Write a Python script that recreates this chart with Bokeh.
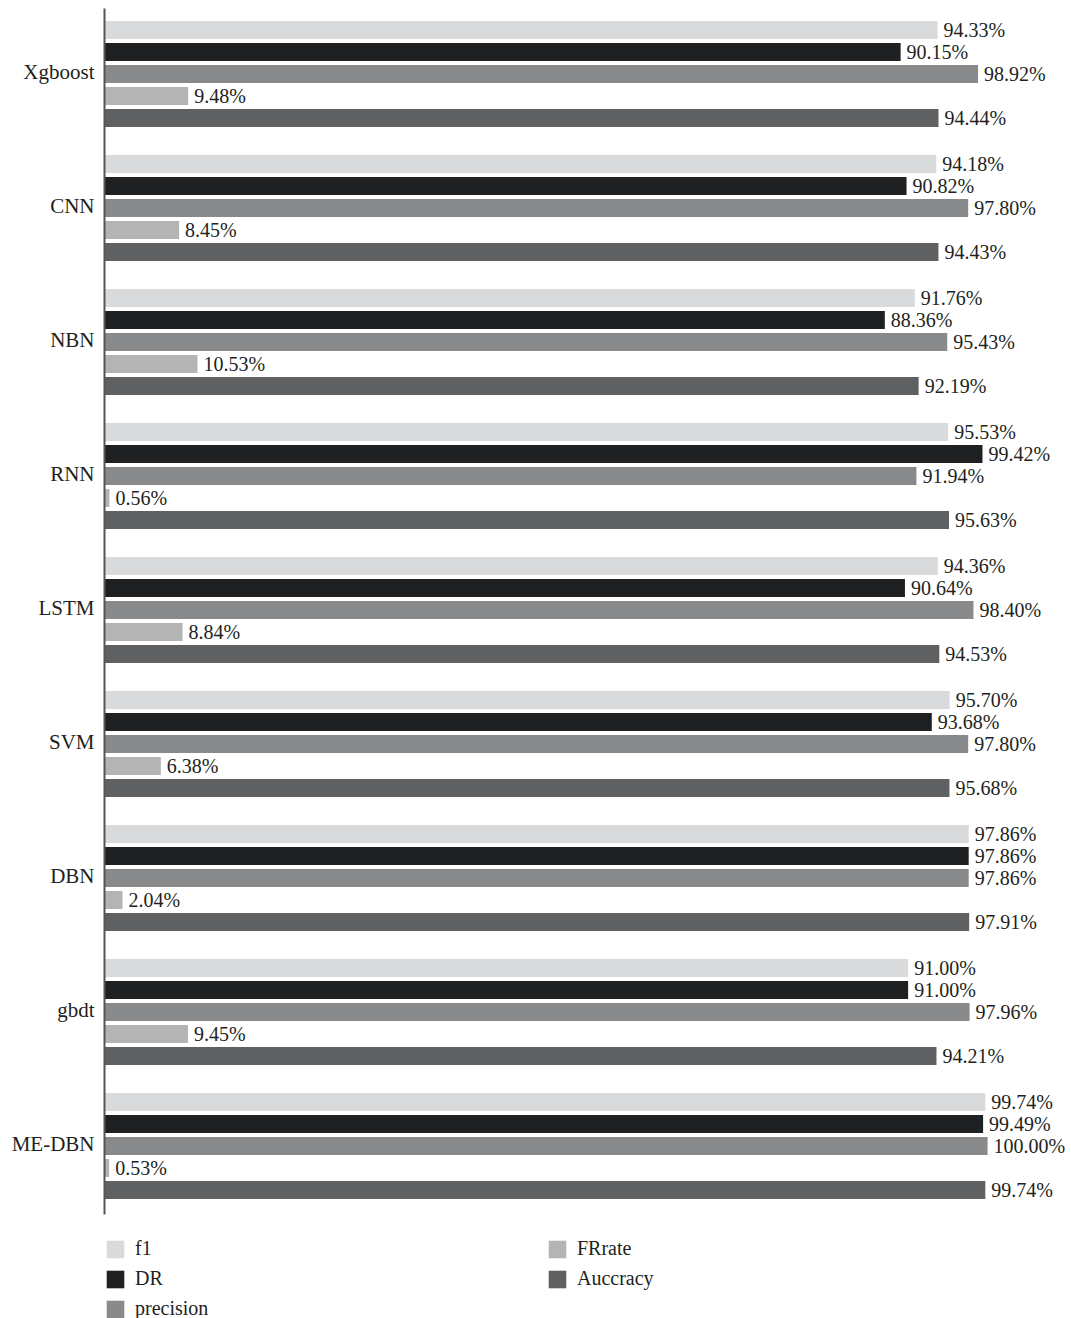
from bokeh.plotting import figure
from bokeh.models import Range1d, Legend, LegendItem, ColumnDataSource, FixedTicker
from bokeh.core.properties import value
from bokeh.embed import file_html
from bokeh.resources import INLINE

categories = ["Xgboost", "CNN", "NBN", "RNN", "LSTM", "SVM", "DBN", "gbdt", "ME-DBN"]
f1 = [94.33, 94.18, 91.76, 95.53, 94.36, 95.70, 97.86, 91.00, 99.74]
dr = [90.15, 90.82, 88.36, 99.42, 90.64, 93.68, 97.86, 91.00, 99.49]
precision = [98.92, 97.80, 95.43, 91.94, 98.40, 97.80, 97.86, 97.96, 100.00]
frrate = [9.48, 8.45, 10.53, 0.56, 8.84, 6.38, 2.04, 9.45, 0.53]
accuracy = [94.44, 94.43, 92.19, 95.63, 94.53, 95.68, 97.91, 94.21, 99.74]

series_names = ["f1", "DR", "precision", "FRrate", "Auccracy"]
series_values = [f1, dr, precision, frrate, accuracy]
colors = ["#d9dadb", "#1f2021", "#898a8b", "#b4b4b4", "#5f6061"]

FONT = "Liberation Serif"
TXT = "#231f20"

n = len(categories)
centers = [n - 0.5 - i for i in range(n)]  # top to bottom
tick_pos = [c + 3.5 / 134 for c in centers]

p = figure(width=1071, height=1318,
           y_range=Range1d(-0.776, n),
           x_range=Range1d(0, 109.5),
           output_backend="svg", toolbar_location=None,
           x_axis_location=None,
           min_border_left=104, min_border_right=0,
           min_border_top=8, min_border_bottom=0)

p.outline_line_color = None
p.xgrid.visible = False
p.ygrid.visible = False
p.yaxis.bounds = (0, n)
p.yaxis.ticker = FixedTicker(ticks=tick_pos)
p.yaxis.major_label_overrides = {t: name for t, name in zip(tick_pos, categories)}
p.yaxis.axis_line_color = "#555555"
p.yaxis.axis_line_width = 2
p.yaxis.major_tick_line_color = None
p.yaxis.minor_tick_line_color = None
p.yaxis.major_label_standoff = 4
p.yaxis.major_label_text_font = FONT
p.yaxis.major_label_text_font_size = "21px"
p.yaxis.major_label_text_color = TXT

step = 22 / 134
shift = 1.5 / 134
items = []
for k, (name, vals, col) in enumerate(zip(series_names, series_values, colors)):
    off = (2 - k) * step + shift
    src = ColumnDataSource(dict(y=[c + off for c in centers], val=vals,
                                lab=["%.2f%%" % v for v in vals]))
    r = p.hbar(y="y", right="val", left=0,
               height=18 / 134, color=col, line_color=None, source=src)
    p.text(x="val", y="y", text="lab", source=src,
           x_offset=6, text_baseline="middle", text_align="left",
           text_font=value(FONT), text_font_size="20px", text_color=TXT)
    items.append(LegendItem(label=name, renderers=[r]))

legend = Legend(items=items, location=(0, -2), orientation="vertical", nrows=3,
                glyph_width=22, glyph_height=22, label_standoff=9,
                label_width=404, label_height=20, spacing=7,
                padding=0, margin=0, border_line_color=None,
                background_fill_alpha=0,
                label_text_font=FONT, label_text_font_size="20px",
                label_text_color=TXT)
p.add_layout(legend, "center")

open("out.html", "w").write(file_html(p, INLINE))
